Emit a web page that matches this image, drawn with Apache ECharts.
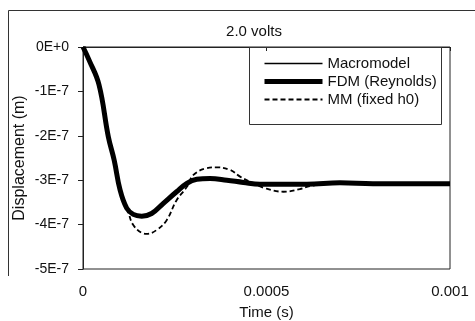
<!DOCTYPE html>
<html>
<head>
<meta charset="utf-8">
<script src="https://cdn.jsdelivr.net/npm/echarts@6/dist/echarts.min.js"></script>
<style>
  html, body { margin: 0; padding: 0; background: #fff; }
  #chart { width: 475px; height: 321px; }
</style>
</head>
<body>
<div id="chart"></div>
<script>
// time in seconds, displacement in units of 1E-7 m
var fdmTime = [0, 0.0000163, 0.0000436, 0.000069, 0.000085, 0.000101, 0.000119,
  0.000137, 0.00016, 0.000187, 0.000219, 0.000255, 0.000283, 0.00031, 0.000346, 0.000392, 0.000437,
  0.000482, 0.00055, 0.00061, 0.0007, 0.00079, 0.001];
var fdmDisp = [0, -0.29, -0.85, -2.02, -2.55, -3.22, -3.63,
  -3.77, -3.81, -3.75, -3.52, -3.26, -3.07, -2.98, -2.96, -3.00, -3.05,
  -3.09, -3.09, -3.09, -3.06, -3.08, -3.08];

// thin line sits under the thick one
var macroTime = fdmTime;
var macroDisp = fdmDisp;

var mmTime = [0, 0.0000163, 0.0000436, 0.000069, 0.000085, 0.000101, 0.000123,
  0.000137, 0.000164, 0.000174, 0.000201, 0.000228, 0.000255, 0.000283, 0.000301, 0.000337, 0.000364,
  0.000401, 0.000428, 0.000455, 0.000496, 0.000546, 0.000591, 0.000619, 0.000681, 0.000728, 0.000773, 0.001];
var mmDisp = [0, -0.29, -0.85, -2.02, -2.55, -3.22, -3.71,
  -4.01, -4.20, -4.21, -4.12, -3.90, -3.45, -3.15, -2.88, -2.73, -2.71,
  -2.77, -2.92, -3.03, -3.18, -3.26, -3.20, -3.13, -3.07, -3.04, -3.06, -3.08];

var xTickLabels = ['0', '0.0005', '0.001'];
var yTickLabels = ['-5E-7', '-4E-7', '-3E-7', '-2E-7', '-1E-7', '0E+0'];

function pairs(t, v) {
  return t.map(function (x, i) { return [x, v[i]]; });
}

var font = 'Arial, "Liberation Sans", Helvetica, sans-serif';
var chart = echarts.init(document.getElementById('chart'));

chart.setOption({
  animation: false,
  backgroundColor: '#fff',
  title: {
    text: '2.0 volts',
    left: 249,
    top: 19,
    textAlign: 'center',
    textStyle: { fontFamily: font, fontSize: 15, fontWeight: 'normal', color: '#111' }
  },
  grid: {
    left: 83,
    top: 47,
    right: 25,
    bottom: 52,
    show: true,
    borderColor: '#222',
    borderWidth: 1,
    outerBoundsMode: 'none'
  },
  legend: {
    orient: 'vertical',
    left: 262,
    top: 56,
    padding: 0,
    itemWidth: 58,
    itemHeight: 14,
    itemGap: 3,
    itemStyle: { opacity: 0 },
    textStyle: { fontFamily: font, fontSize: 15, color: '#111' },
    data: [
      { name: 'Macromodel', lineStyle: { width: 1.5 } },
      { name: 'FDM (Reynolds)', lineStyle: { width: 5 } },
      { name: 'MM (fixed h0)', lineStyle: { width: 1.8 } }
    ]
  },
  xAxis: {
    type: 'value',
    min: 0,
    max: 0.001,
    interval: 0.0005,
    name: 'Time (s)',
    nameLocation: 'middle',
    nameGap: 36,
    nameTextStyle: { fontFamily: font, fontSize: 15, color: '#111' },
    axisLine: { lineStyle: { color: '#222', width: 1 } },
    axisTick: { show: true, length: 4, lineStyle: { color: '#222' } },
    axisLabel: {
      margin: 15,
      fontFamily: font,
      fontSize: 15,
      color: '#111',
      formatter: function (v, i) { return xTickLabels[i]; }
    },
    splitLine: { show: false }
  },
  yAxis: {
    type: 'value',
    min: -5,
    max: 0,
    interval: 1,
    name: 'Displacement (m)',
    nameLocation: 'middle',
    nameGap: 55,
    nameMoveOverlap: false,
    nameRotate: 90,
    nameTextStyle: { fontFamily: font, fontSize: 16, color: '#111' },
    axisLine: { onZero: false, lineStyle: { color: '#222', width: 1 } },
    axisTick: { show: true, length: 5, lineStyle: { color: '#222' } },
    axisLabel: {
      margin: 14,
      fontFamily: font,
      fontSize: 14,
      color: '#111',
      formatter: function (v, i) { return yTickLabels[i]; }
    },
    splitLine: { show: false }
  },
  series: [
    {
      name: 'Macromodel',
      type: 'line',
      data: pairs(macroTime, macroDisp),
      showSymbol: false,
      symbol: 'none',
      smooth: 0.4,
      z: 2,
      lineStyle: { color: '#000', width: 1.5 },
      itemStyle: { color: '#000' }
    },
    {
      name: 'FDM (Reynolds)',
      type: 'line',
      data: pairs(fdmTime, fdmDisp),
      showSymbol: false,
      symbol: 'none',
      smooth: 0.4,
      z: 4,
      lineStyle: { color: '#000', width: 5 },
      itemStyle: { color: '#000' }
    },
    {
      name: 'MM (fixed h0)',
      type: 'line',
      data: pairs(mmTime, mmDisp),
      showSymbol: false,
      symbol: 'none',
      smooth: 0.4,
      z: 1,
      lineStyle: { color: '#000', width: 1.8, type: [5, 3] },
      itemStyle: { color: '#000' }
    }
  ],
  graphic: [
    {
      type: 'polyline',
      silent: true,
      shape: { points: [[8.5, 276], [8.5, 10.5], [475, 10.5]] },
      style: { stroke: '#333', lineWidth: 1, fill: null }
    },
    {
      type: 'rect',
      silent: true,
      z: 10,
      shape: { x: 249.5, y: 47.5, width: 192, height: 77 },
      style: { stroke: '#333', lineWidth: 1, fill: null }
    }
  ]
});
</script>
</body>
</html>
